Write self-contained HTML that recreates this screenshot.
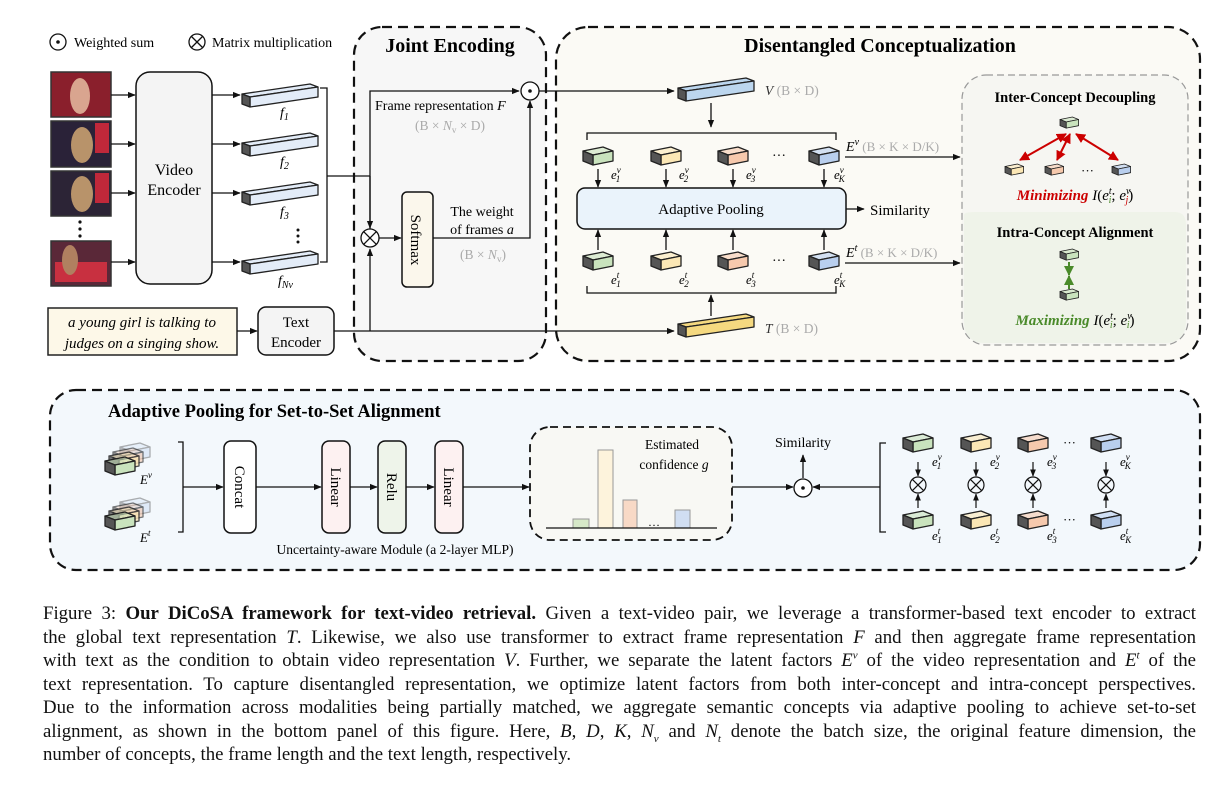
<!DOCTYPE html>
<html><head><meta charset="utf-8"><style>
body{margin:0;background:#fff;width:1224px;height:790px;overflow:hidden;position:relative;font-family:"Liberation Serif",serif}
svg{position:absolute;left:0;top:0}
.cap{position:absolute;left:43px;width:1153px;font-size:18.8px;line-height:20px;text-align:justify;text-align-last:justify;white-space:nowrap;color:#111}
.cap.last{text-align-last:left}
.cap sup,.cap sub{font-size:11px;line-height:0}
</style></head><body>
<svg width="1224" height="600" viewBox="0 0 1224 600" font-family="Liberation Serif, serif">
<defs>
<marker id="a" viewBox="0 0 10 10" refX="9" refY="5" markerWidth="6" markerHeight="6" orient="auto"><path d="M0,1 L10,5 L0,9 z" fill="#111"/></marker>
<marker id="ar" viewBox="0 0 10 10" refX="9" refY="5" markerWidth="5" markerHeight="5" orient="auto-start-reverse"><path d="M0,0 L10,5 L0,10 z" fill="#c00"/></marker>
<marker id="ag" viewBox="0 0 10 10" refX="9" refY="5" markerWidth="5" markerHeight="5" orient="auto"><path d="M0,0 L10,5 L0,10 z" fill="#4a8a2a"/></marker>
<g id="cb" stroke="#222" stroke-width="1.3" stroke-linejoin="round">
<polygon points="0,4 20,0 30,4 10,8" fill-opacity=".6"/>
<polygon points="10,8 30,4 30,14 10,18"/>
<polygon points="0,4 10,8 10,18 0,14" fill="#555"/>
</g>
<g id="bar" stroke="#222" stroke-width="1.3" stroke-linejoin="round">
<polygon points="0,10 68,0 76,3 8,13" />
<polygon points="8,13 76,3 76,13 8,23"/>
<polygon points="0,10 8,13 8,23 0,20" fill="#555"/>
</g>
</defs>

<circle cx="58" cy="42" r="8" fill="none" stroke="#111" stroke-width="1.3"/><circle cx="58" cy="42" r="1.8" fill="#111"/>
<text x="74" y="47" font-size="14">Weighted sum</text>
<circle cx="197" cy="42" r="8" fill="none" stroke="#111" stroke-width="1.3"/><path d="M191.5,36.5 L202.5,47.5 M202.5,36.5 L191.5,47.5" stroke="#111" stroke-width="1.3"/>
<text x="212" y="47" font-size="14">Matrix multiplication</text>

<rect x="354" y="27" width="192" height="334" rx="28" fill="#f7f7f7" stroke="#111" stroke-width="2.2" stroke-dasharray="10,6"/>
<rect x="556" y="27" width="644" height="334" rx="32" fill="#fbfaf5" stroke="#111" stroke-width="2.2" stroke-dasharray="10,6"/>
<rect x="962" y="75" width="226" height="270" rx="24" fill="#f6f6f2" stroke="#999" stroke-width="1.2" stroke-dasharray="7,4"/>
<path d="M964,225 L964,215 Q964,212 975,212 L1175,212 Q1186,212 1186,225 L1186,320 Q1186,343 1165,343 L985,343 Q964,343 964,320 z" fill="#eff3e9"/>
<text x="450" y="52" font-size="20" font-weight="bold" text-anchor="middle">Joint Encoding</text>
<text x="880" y="52" font-size="20" font-weight="bold" text-anchor="middle">Disentangled Conceptualization</text>

<g stroke="#333" stroke-width="1.5">
<rect x="51" y="72" width="60" height="45" fill="#8a1f2c"/>
<rect x="51" y="121" width="60" height="46" fill="#2a2238"/>
<rect x="51" y="171" width="60" height="45" fill="#2c2436"/>
<rect x="51" y="241" width="60" height="45" fill="#5a2838"/>
</g>
<ellipse cx="80" cy="96" rx="10" ry="18" fill="#d9a58f"/><ellipse cx="82" cy="145" rx="11" ry="18" fill="#b8936a"/><rect x="95" y="123" width="14" height="30" fill="#c0283a"/>
<ellipse cx="82" cy="194" rx="11" ry="18" fill="#b8936a"/><rect x="95" y="173" width="14" height="30" fill="#c0283a"/>
<rect x="55" y="262" width="52" height="20" fill="#c83040"/><ellipse cx="70" cy="260" rx="8" ry="15" fill="#b08060"/>
<g fill="#111"><circle cx="80" cy="222" r="1.6"/><circle cx="80" cy="229" r="1.6"/><circle cx="80" cy="236" r="1.6"/></g>
<g stroke="#111" stroke-width="1.3" marker-end="url(#a)">
<line x1="111" y1="95" x2="135" y2="95"/><line x1="111" y1="144" x2="135" y2="144"/><line x1="111" y1="193" x2="135" y2="193"/><line x1="111" y1="262" x2="135" y2="262"/>
<line x1="212" y1="95" x2="240" y2="95"/><line x1="212" y1="144" x2="240" y2="144"/><line x1="212" y1="193" x2="240" y2="193"/><line x1="212" y1="262" x2="240" y2="262"/>
</g>
<rect x="136" y="72" width="76" height="212" rx="14" fill="#f4f4f4" stroke="#111" stroke-width="1.5"/>
<text x="174" y="175" font-size="16" text-anchor="middle">Video</text><text x="174" y="195" font-size="16" text-anchor="middle">Encoder</text>
<g fill="#e3ecf8"><use href="#bar" x="242" y="84"/><use href="#bar" x="242" y="133"/><use href="#bar" x="242" y="182"/><use href="#bar" x="242" y="251"/></g>
<g font-size="14" font-style="italic"><text x="280" y="117">f<tspan font-size="10" dy="3">1</tspan></text><text x="280" y="166">f<tspan font-size="10" dy="3">2</tspan></text><text x="280" y="216">f<tspan font-size="10" dy="3">3</tspan></text><text x="278" y="285">f<tspan font-size="10" dy="3">Nv</tspan></text></g>
<g fill="#111"><circle cx="298" cy="230" r="1.5"/><circle cx="298" cy="236" r="1.5"/><circle cx="298" cy="242" r="1.5"/></g>
<path d="M320,88 L327,88 L327,262 L320,262 M327,176 L370,176" fill="none" stroke="#111" stroke-width="1.3"/>

<path d="M370,230 L370,91 L519,91" fill="none" stroke="#111" stroke-width="1.3" marker-end="url(#a)"/>
<line x1="370" y1="176" x2="370" y2="228" stroke="#111" stroke-width="1.3" marker-end="url(#a)"/>
<circle cx="370" cy="238" r="9" fill="#fff" stroke="#111" stroke-width="1.3"/><path d="M363.6,231.6 L376.4,244.4 M376.4,231.6 L363.6,244.4" stroke="#111" stroke-width="1.3"/>
<line x1="370" y1="331" x2="370" y2="249" stroke="#111" stroke-width="1.3" marker-end="url(#a)"/>
<line x1="379" y1="238" x2="401" y2="238" stroke="#111" stroke-width="1.3" marker-end="url(#a)"/>
<rect x="402" y="192" width="31" height="95" rx="5" fill="#fbf7ec" stroke="#111" stroke-width="1.5"/>
<text transform="translate(411,240) rotate(90)" font-size="15" text-anchor="middle">Softmax</text>
<path d="M433,238 L530,238 L530,101" fill="none" stroke="#111" stroke-width="1.3" marker-end="url(#a)"/>
<circle cx="530" cy="91" r="9" fill="#fff" stroke="#111" stroke-width="1.3"/><circle cx="530" cy="91" r="1.8" fill="#111"/>
<text x="375" y="110" font-size="14">Frame representation <tspan font-style="italic">F</tspan></text>
<text x="450" y="130" font-size="13.5" fill="#aaa" text-anchor="middle">(B × <tspan font-style="italic">N</tspan><tspan font-size="9" dy="3">v</tspan><tspan dy="-3"> × D)</tspan></text>
<text x="482" y="216" font-size="14" text-anchor="middle">The weight</text>
<text x="482" y="234" font-size="14" text-anchor="middle">of frames <tspan font-style="italic">a</tspan></text>
<text x="483" y="259" font-size="13.5" fill="#aaa" text-anchor="middle">(B × <tspan font-style="italic">N</tspan><tspan font-size="9" dy="3">v</tspan><tspan dy="-3">)</tspan></text>
<line x1="539" y1="91" x2="674" y2="91" stroke="#111" stroke-width="1.3" marker-end="url(#a)"/>

<rect x="48" y="308" width="189" height="47" fill="#fdf8e8" stroke="#222" stroke-width="1.5"/>
<text x="142" y="327" font-size="15" font-style="italic" text-anchor="middle">a young girl is talking to</text>
<text x="142" y="348" font-size="15" font-style="italic" text-anchor="middle">judges on a singing show.</text>
<line x1="237" y1="331" x2="257" y2="331" stroke="#111" stroke-width="1.3" marker-end="url(#a)"/>
<rect x="258" y="307" width="76" height="48" rx="8" fill="#f4f4f4" stroke="#111" stroke-width="1.5"/>
<text x="296" y="327" font-size="15" text-anchor="middle">Text</text><text x="296" y="347" font-size="15" text-anchor="middle">Encoder</text>
<line x1="334" y1="331" x2="674" y2="331" stroke="#111" stroke-width="1.3" marker-end="url(#a)"/>

<use href="#bar" x="678" y="78" fill="#bcd6ee"/>
<text x="765" y="95" font-size="13.5" fill="#aaa"><tspan font-style="italic" fill="#333">V</tspan> (B × D)</text>
<use href="#bar" x="678" y="314" fill="#f5d980"/>
<text x="765" y="333" font-size="13.5" fill="#aaa"><tspan font-style="italic" fill="#333">T</tspan> (B × D)</text>
<line x1="711" y1="103" x2="711" y2="127" stroke="#111" stroke-width="1.3" marker-end="url(#a)"/>
<path d="M587,140 L587,133 L836,133 L836,140" fill="none" stroke="#111" stroke-width="1.3"/>
<path d="M587,286 L587,293 L836,293 L836,286" fill="none" stroke="#111" stroke-width="1.3"/>
<line x1="711" y1="316" x2="711" y2="295" stroke="#111" stroke-width="1.3" marker-end="url(#a)"/>
<g><use href="#cb" x="583" y="147" fill="#c9e3bd"/><use href="#cb" x="651" y="147" fill="#fbe7b5"/><use href="#cb" x="718" y="147" fill="#f6c9ad"/><use href="#cb" x="809" y="147" fill="#b9cfee"/>
<use href="#cb" x="583" y="252" fill="#c9e3bd"/><use href="#cb" x="651" y="252" fill="#fbe7b5"/><use href="#cb" x="718" y="252" fill="#f6c9ad"/><use href="#cb" x="809" y="252" fill="#b9cfee"/></g>
<text x="772" y="160" font-size="14">···</text><text x="772" y="265" font-size="14">···</text>
<g font-size="13" font-style="italic">
<text x="611" y="179">e<tspan font-size="9" dy="-6">v</tspan><tspan font-size="9" dx="-5" dy="9">1</tspan></text>
<text x="679" y="179">e<tspan font-size="9" dy="-6">v</tspan><tspan font-size="9" dx="-5" dy="9">2</tspan></text>
<text x="746" y="179">e<tspan font-size="9" dy="-6">v</tspan><tspan font-size="9" dx="-5" dy="9">3</tspan></text>
<text x="834" y="179">e<tspan font-size="9" dy="-6">v</tspan><tspan font-size="9" dx="-5" dy="9">K</tspan></text>
<text x="611" y="284">e<tspan font-size="9" dy="-6">t</tspan><tspan font-size="9" dx="-3" dy="9">1</tspan></text>
<text x="679" y="284">e<tspan font-size="9" dy="-6">t</tspan><tspan font-size="9" dx="-3" dy="9">2</tspan></text>
<text x="746" y="284">e<tspan font-size="9" dy="-6">t</tspan><tspan font-size="9" dx="-3" dy="9">3</tspan></text>
<text x="834" y="284">e<tspan font-size="9" dy="-6">t</tspan><tspan font-size="9" dx="-3" dy="9">K</tspan></text>
</g>
<g stroke="#111" stroke-width="1.3" marker-end="url(#a)">
<line x1="598" y1="169" x2="598" y2="187"/><line x1="666" y1="169" x2="666" y2="187"/><line x1="733" y1="169" x2="733" y2="187"/><line x1="824" y1="169" x2="824" y2="187"/>
<line x1="598" y1="250" x2="598" y2="230"/><line x1="666" y1="250" x2="666" y2="230"/><line x1="733" y1="250" x2="733" y2="230"/><line x1="824" y1="250" x2="824" y2="230"/>
<line x1="846" y1="209" x2="864" y2="209"/>
<line x1="845" y1="157" x2="960" y2="157"/><line x1="845" y1="263" x2="960" y2="263"/>
</g>
<rect x="577" y="188" width="269" height="41" rx="8" fill="#eaf3fb" stroke="#111" stroke-width="1.5"/>
<text x="711" y="214" font-size="15" text-anchor="middle">Adaptive Pooling</text>
<text x="870" y="215" font-size="15">Similarity</text>
<text x="846" y="151" font-size="14"><tspan font-style="italic">E</tspan><tspan font-size="10" dy="-6" font-style="italic">v</tspan><tspan dy="6" fill="#aaa" font-size="13"> (B × K × D/K)</tspan></text>
<text x="846" y="257" font-size="14"><tspan font-style="italic">E</tspan><tspan font-size="10" dy="-6" font-style="italic">t</tspan><tspan dy="6" fill="#aaa" font-size="13"> (B × K × D/K)</tspan></text>

<text x="1075" y="102" font-size="14.5" font-weight="bold" text-anchor="middle">Inter-Concept Decoupling</text>
<use href="#cb" fill="#c9e3bd" transform="translate(1060,117) scale(.62)"/>
<g stroke="#c00" stroke-width="2" marker-end="url(#ar)" marker-start="url(#ar)">
<line x1="1066" y1="134" x2="1020" y2="160"/><line x1="1070" y1="134" x2="1057" y2="160"/><line x1="1076" y1="134" x2="1118" y2="160"/>
</g>
<use href="#cb" fill="#fbe7b5" transform="translate(1005,164) scale(.62)"/>
<use href="#cb" fill="#f6c9ad" transform="translate(1045,164) scale(.62)"/>
<use href="#cb" fill="#b9cfee" transform="translate(1112,164) scale(.62)"/>
<text x="1081" y="175" font-size="13">···</text>
<text x="1075" y="200" font-size="15" text-anchor="middle"><tspan fill="#c00" font-weight="bold" font-style="italic">Minimizing</tspan> <tspan font-style="italic">I</tspan>(<tspan font-style="italic">e</tspan><tspan font-size="10" dy="-6" font-style="italic">t</tspan><tspan font-size="10" dx="-3" dy="9" fill="#4a8a2a" font-style="italic">i</tspan><tspan dy="-3">; </tspan><tspan font-style="italic">e</tspan><tspan font-size="10" dy="-6" font-style="italic">v</tspan><tspan font-size="10" dx="-5" dy="9" fill="#c00" font-style="italic">j</tspan><tspan dy="-3">)</tspan></text>
<text x="1075" y="237" font-size="14.5" font-weight="bold" text-anchor="middle">Intra-Concept Alignment</text>
<use href="#cb" fill="#c9e3bd" transform="translate(1060,249) scale(.62)"/>
<use href="#cb" fill="#c9e3bd" transform="translate(1060,289) scale(.62)"/>
<line x1="1069" y1="262" x2="1069" y2="275" stroke="#4a8a2a" stroke-width="2" marker-end="url(#ag)"/>
<line x1="1069" y1="289" x2="1069" y2="276" stroke="#4a8a2a" stroke-width="2" marker-end="url(#ag)"/>
<text x="1075" y="325" font-size="15" text-anchor="middle"><tspan fill="#4a8a2a" font-weight="bold" font-style="italic">Maximizing</tspan> <tspan font-style="italic">I</tspan>(<tspan font-style="italic">e</tspan><tspan font-size="10" dy="-6" font-style="italic">t</tspan><tspan font-size="10" dx="-3" dy="9" fill="#4a8a2a" font-style="italic">i</tspan><tspan dy="-3">; </tspan><tspan font-style="italic">e</tspan><tspan font-size="10" dy="-6" font-style="italic">v</tspan><tspan font-size="10" dx="-5" dy="9" fill="#4a8a2a" font-style="italic">i</tspan><tspan dy="-3">)</tspan></text>

<rect x="50" y="390" width="1150" height="180" rx="26" fill="#f3f8fc" stroke="#111" stroke-width="2.2" stroke-dasharray="10,6"/>
<text x="108" y="417" font-size="18.5" font-weight="bold">Adaptive Pooling for Set-to-Set Alignment</text>
<g opacity=".35"><use href="#cb" x="120" y="443" fill="#b9cfee"/><use href="#cb" x="120" y="498" fill="#b9cfee"/></g>
<g opacity=".6"><use href="#cb" x="113" y="448" fill="#f6c9ad"/><use href="#cb" x="113" y="503" fill="#f6c9ad"/></g>
<g opacity=".8"><use href="#cb" x="109" y="452" fill="#fbe7b5"/><use href="#cb" x="109" y="507" fill="#fbe7b5"/></g>
<use href="#cb" x="105" y="457" fill="#c9e3bd"/><use href="#cb" x="105" y="512" fill="#c9e3bd"/>
<text x="140" y="484" font-size="13" font-style="italic">E<tspan font-size="9" dy="-6">v</tspan></text>
<text x="140" y="542" font-size="13" font-style="italic">E<tspan font-size="9" dy="-6">t</tspan></text>
<path d="M178,442 L183,442 L183,532 L178,532" fill="none" stroke="#111" stroke-width="1.3"/>
<g stroke="#111" stroke-width="1.3" marker-end="url(#a)">
<line x1="183" y1="487" x2="223" y2="487"/><line x1="256" y1="487" x2="321" y2="487"/><line x1="350" y1="487" x2="377" y2="487"/><line x1="406" y1="487" x2="434" y2="487"/><line x1="463" y1="487" x2="529" y2="487"/>
<line x1="732" y1="487" x2="793" y2="487"/><line x1="880" y1="487" x2="813" y2="487"/><line x1="803" y1="478" x2="803" y2="455"/>
</g>
<g stroke="#111" stroke-width="1.5">
<rect x="224" y="441" width="32" height="92" rx="7" fill="#fff"/>
<rect x="322" y="441" width="28" height="92" rx="7" fill="#fdf1f1"/>
<rect x="378" y="441" width="28" height="92" rx="7" fill="#eef4ea"/>
<rect x="435" y="441" width="28" height="92" rx="7" fill="#fdf1f1"/>
</g>
<g font-size="15" text-anchor="middle">
<text transform="translate(235,487) rotate(90)">Concat</text>
<text transform="translate(331,487) rotate(90)">Linear</text>
<text transform="translate(387,487) rotate(90)">Relu</text>
<text transform="translate(444,487) rotate(90)">Linear</text>
</g>
<text x="395" y="554" font-size="13.5" text-anchor="middle">Uncertainty-aware Module (a 2-layer MLP)</text>
<rect x="530" y="427" width="202" height="113" rx="20" fill="#f8f8f4" stroke="#111" stroke-width="1.8" stroke-dasharray="8,5"/>
<g stroke="#999" stroke-width="1">
<rect x="573" y="519" width="16" height="9" fill="#d6e8c8"/><rect x="598" y="450" width="15" height="78" fill="#fdf3dc"/>
<rect x="623" y="500" width="14" height="28" fill="#f8d9c6"/><rect x="675" y="510" width="15" height="18" fill="#d0def2"/>
</g>
<line x1="546" y1="528" x2="717" y2="528" stroke="#111" stroke-width="1.3"/>
<text x="648" y="526" font-size="12">…</text>
<text x="672" y="449" font-size="13.5" text-anchor="middle">Estimated</text>
<text x="674" y="469" font-size="13.5" text-anchor="middle">confidence <tspan font-style="italic">g</tspan></text>
<circle cx="803" cy="488" r="9" fill="#fff" stroke="#111" stroke-width="1.3"/><circle cx="803" cy="488" r="1.8" fill="#111"/>
<text x="803" y="447" font-size="14" text-anchor="middle">Similarity</text>
<path d="M886,443 L880,443 L880,532 L886,532" fill="none" stroke="#111" stroke-width="1.3"/>
<g>
<use href="#cb" x="903" y="434" fill="#c9e3bd"/><use href="#cb" x="961" y="434" fill="#fbe7b5"/><use href="#cb" x="1018" y="434" fill="#f6c9ad"/><use href="#cb" x="1091" y="434" fill="#b9cfee"/>
<use href="#cb" x="903" y="511" fill="#c9e3bd"/><use href="#cb" x="961" y="511" fill="#fbe7b5"/><use href="#cb" x="1018" y="511" fill="#f6c9ad"/><use href="#cb" x="1091" y="511" fill="#b9cfee"/>
</g>
<text x="1063" y="447" font-size="13">···</text><text x="1063" y="524" font-size="13">···</text>
<g stroke="#111" stroke-width="1.2">
<circle cx="918" cy="485" r="8" fill="none"/><path d="M912.3,479.3 L923.7,490.7 M923.7,479.3 L912.3,490.7"/>
<circle cx="976" cy="485" r="8" fill="none"/><path d="M970.3,479.3 L981.7,490.7 M981.7,479.3 L970.3,490.7"/>
<circle cx="1033" cy="485" r="8" fill="none"/><path d="M1027.3,479.3 L1038.7,490.7 M1038.7,479.3 L1027.3,490.7"/>
<circle cx="1106" cy="485" r="8" fill="none"/><path d="M1100.3,479.3 L1111.7,490.7 M1111.7,479.3 L1100.3,490.7"/>
</g>
<g stroke="#111" stroke-width="1.2" marker-end="url(#a)">
<line x1="918" y1="462" x2="918" y2="476"/><line x1="976" y1="462" x2="976" y2="476"/><line x1="1033" y1="462" x2="1033" y2="476"/><line x1="1106" y1="462" x2="1106" y2="476"/>
<line x1="918" y1="508" x2="918" y2="494"/><line x1="976" y1="508" x2="976" y2="494"/><line x1="1033" y1="508" x2="1033" y2="494"/><line x1="1106" y1="508" x2="1106" y2="494"/>
</g>
<g font-size="13" font-style="italic">
<text x="932" y="466">e<tspan font-size="9" dy="-6">v</tspan><tspan font-size="9" dx="-5" dy="9">1</tspan></text>
<text x="990" y="466">e<tspan font-size="9" dy="-6">v</tspan><tspan font-size="9" dx="-5" dy="9">2</tspan></text>
<text x="1047" y="466">e<tspan font-size="9" dy="-6">v</tspan><tspan font-size="9" dx="-5" dy="9">3</tspan></text>
<text x="1120" y="466">e<tspan font-size="9" dy="-6">v</tspan><tspan font-size="9" dx="-5" dy="9">K</tspan></text>
<text x="932" y="540">e<tspan font-size="9" dy="-6">t</tspan><tspan font-size="9" dx="-3" dy="9">1</tspan></text>
<text x="990" y="540">e<tspan font-size="9" dy="-6">t</tspan><tspan font-size="9" dx="-3" dy="9">2</tspan></text>
<text x="1047" y="540">e<tspan font-size="9" dy="-6">t</tspan><tspan font-size="9" dx="-3" dy="9">3</tspan></text>
<text x="1120" y="540">e<tspan font-size="9" dy="-6">t</tspan><tspan font-size="9" dx="-3" dy="9">K</tspan></text>
</g>
</svg>

<div class="cap" style="top:604px">Figure 3: <b>Our DiCoSA framework for text-video retrieval.</b> Given a text-video pair, we leverage a transformer-based text encoder to extract</div>
<div class="cap" style="top:627.5px">the global text representation <i>T</i>. Likewise, we also use transformer to extract frame representation <i>F</i> and then aggregate frame representation</div>
<div class="cap" style="top:651px">with text as the condition to obtain video representation <i>V</i>. Further, we separate the latent factors <i>E<sup>v</sup></i> of the video representation and <i>E<sup>t</sup></i> of the</div>
<div class="cap" style="top:674.5px">text representation. To capture disentangled representation, we optimize latent factors from both inter-concept and intra-concept perspectives.</div>
<div class="cap" style="top:698px">Due to the information across modalities being partially matched, we aggregate semantic concepts via adaptive pooling to achieve set-to-set</div>
<div class="cap" style="top:721.5px">alignment, as shown in the bottom panel of this figure. Here, <i>B</i>, <i>D</i>, <i>K</i>, <i>N<sub>v</sub></i> and <i>N<sub>t</sub></i> denote the batch size, the original feature dimension, the</div>
<div class="cap last" style="top:745px">number of concepts, the frame length and the text length, respectively.</div>
</body></html>
